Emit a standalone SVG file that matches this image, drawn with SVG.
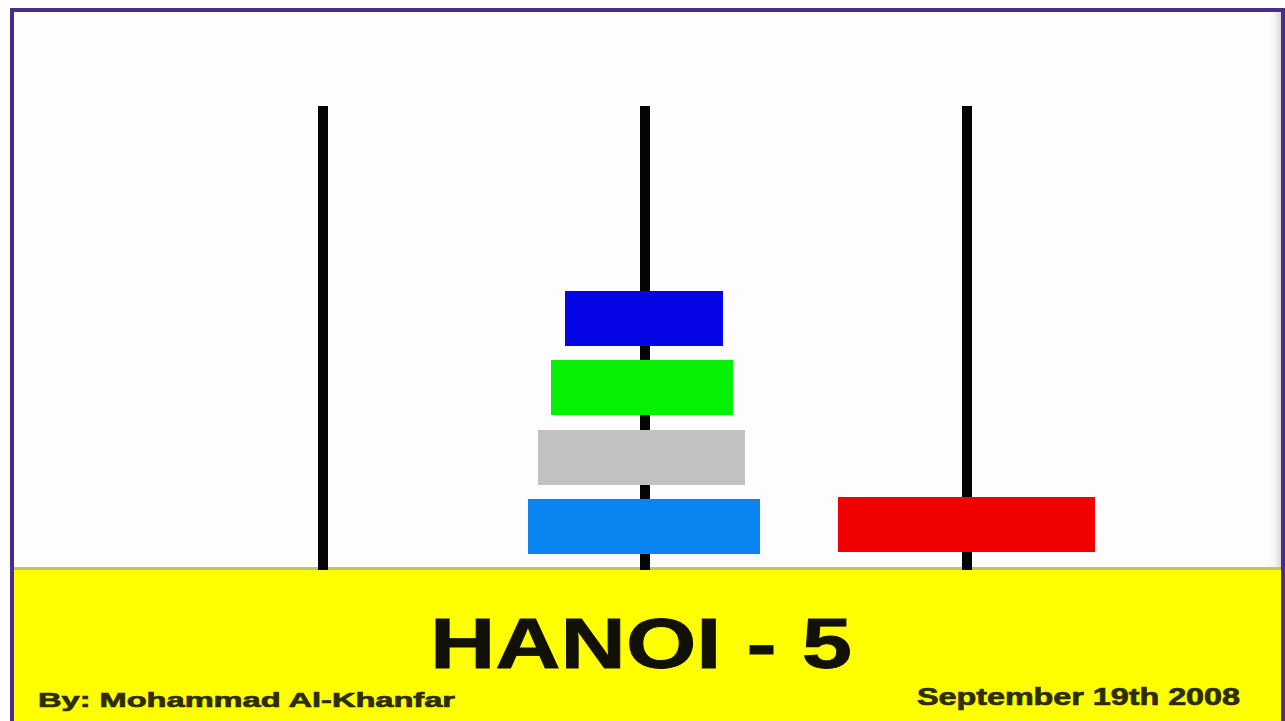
<svg xmlns="http://www.w3.org/2000/svg" width="1285" height="721" viewBox="0 0 1285 721">
  <style>
    .peg { fill: #050505; }
    .disk { stroke: none; }
    .title { font-family: "Liberation Sans", Arial, sans-serif; font-weight: bold; fill: #111108; stroke: #111108; stroke-width: 0.8; }
    .credit { font-family: "Liberation Sans", Arial, sans-serif; font-weight: bold; fill: #2e2e05; stroke: #2e2e05; stroke-width: 0.7; }
  </style>
  <defs>
    <linearGradient id="rightShade" x1="0" y1="0" x2="1" y2="0">
      <stop offset="0" stop-color="#fdfdfd" stop-opacity="0"/>
      <stop offset="1" stop-color="#d8d8d8"/>
    </linearGradient>
  </defs>

  <!-- page -->
  <rect x="0" y="0" width="1285" height="721" fill="#ffffff"/>
  <rect x="12" y="11" width="1270" height="720" fill="#fdfdfd"/>
  <rect x="1268" y="12" width="13" height="557" fill="url(#rightShade)"/>

  <!-- base -->
  <g id="base">
    <rect x="12" y="570" width="1270" height="151" fill="#ffff00"/>
    <rect x="12" y="567" width="1270" height="3" fill="#c4c45a"/>
  </g>

  <!-- pegs -->
  <g id="peg-left"><rect class="peg" x="318" y="106" width="10" height="464"/></g>
  <g id="peg-middle"><rect class="peg" x="640" y="106" width="10" height="464"/></g>
  <g id="peg-right"><rect class="peg" x="962" y="106" width="10" height="464"/></g>

  <!-- disks on the middle peg -->
  <g id="disk-darkblue"><rect class="disk" x="565" y="291" width="158" height="55" fill="#0505e6"/></g>
  <g id="disk-green"><rect class="disk" x="551" y="360" width="182" height="55" fill="#05f005"/></g>
  <g id="disk-gray"><rect class="disk" x="538" y="430" width="207" height="55" fill="#c2c2c2"/></g>
  <g id="disk-lightblue"><rect class="disk" x="528" y="499" width="232" height="55" fill="#0a84f0"/></g>

  <!-- disk on the right peg -->
  <g id="disk-red"><rect class="disk" x="838" y="497" width="257" height="55" fill="#f00000"/></g>

  <!-- captions -->
  <g id="title">
    <text class="title" x="430" y="668" font-size="70" textLength="422" lengthAdjust="spacingAndGlyphs">HANOI - 5</text>
  </g>
  <g id="author">
    <text class="credit" x="38" y="707" font-size="21" textLength="417" lengthAdjust="spacingAndGlyphs">By: Mohammad Al-Khanfar</text>
  </g>
  <g id="date">
    <text class="credit" x="917" y="705" font-size="23" textLength="323" lengthAdjust="spacingAndGlyphs">September 19th 2008</text>
  </g>

  <!-- frame -->
  <rect x="12" y="10" width="1271" height="730" fill="none" stroke="#4b2c8c" stroke-width="4"/>
</svg>
